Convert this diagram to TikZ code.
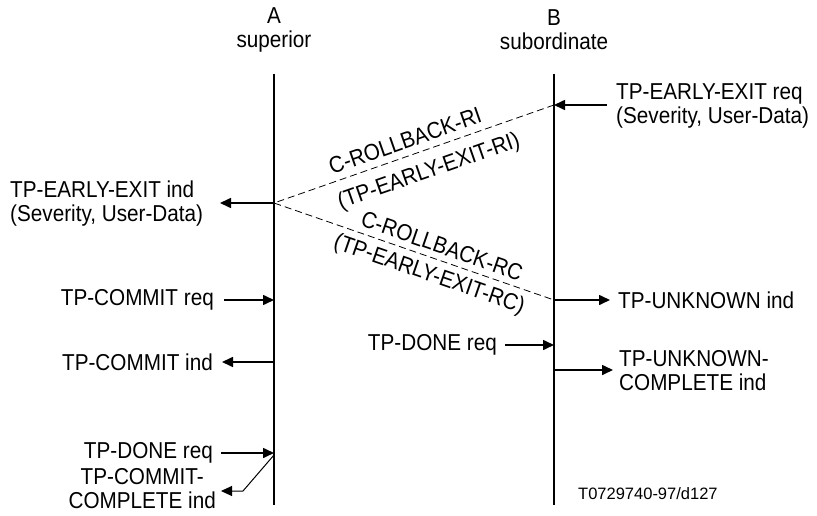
\documentclass[tikz,border=0pt]{standalone}
\usepackage{fontspec}
\setmainfont{Liberation Sans}
\newfontfamily\narrowfont{Liberation Sans}[FakeStretch=0.9]
\usetikzlibrary{arrows.meta}
\begin{document}
\begin{tikzpicture}[x=1pt,y=-1pt,
  lbl/.style={font=\narrowfont\fontsize{23}{24}\selectfont, inner sep=0pt, align=left},
  lblc/.style={lbl, align=center},
  small/.style={font=\fontsize{16.5}{18}\selectfont, inner sep=0pt},
  life/.style={line width=1.6pt},
  msg/.style={line width=1.6pt, -{Triangle[length=11pt,width=10pt]}},
  thinmsg/.style={line width=1pt, -{Triangle[length=11pt,width=10pt]}},
  pdu/.style={line width=0.8pt, dash pattern=on 7pt off 4pt}]
\useasboundingbox (0,0) rectangle (817,516);
% lifelines
\coordinate (Atop) at (274,74);
\coordinate (Abot) at (274,505);
\coordinate (Btop) at (554,74);
\coordinate (Bbot) at (554,505);
\draw[life] (Atop) -- (Abot);
\draw[life] (Btop) -- (Bbot);
% headers
\node[lblc] (hA) at (274,30) {A\\superior};
\node[lblc] (hB) at (554,30) {B\\subordinate};
% points on lifelines
\coordinate (B1) at (554,105);
\coordinate (A1) at (274,203);
\coordinate (B2) at (554,300);
\coordinate (A2) at (274,300);
\coordinate (B3) at (554,345);
\coordinate (A3) at (274,362);
\coordinate (B4) at (554,370);
\coordinate (A4) at (274,453);
\coordinate (A5) at (274,455);
\coordinate (k5) at (243,491);
% free ends
\coordinate (e1) at (607,105);
\coordinate (e2) at (220,203);
\coordinate (e3) at (224,300);
\coordinate (e4) at (610,300);
\coordinate (e5) at (505,345);
\coordinate (e6) at (222,362);
\coordinate (e7) at (613,370);
\coordinate (e8) at (221,453);
\coordinate (e9) at (221,491);
% texts
\node[lbl, anchor=west] (t1) at (616,106) {TP-EARLY-EXIT req\\(Severity, User-Data)};
\node[lbl, anchor=west] (t2) at (10,204) {TP-EARLY-EXIT ind\\(Severity, User-Data)};
\node[lbl, anchor=east] (t3) at (214,300) {TP-COMMIT req};
\node[lbl, anchor=west] (t4) at (618,300) {TP-UNKNOWN ind};
\node[lbl, anchor=east] (t5) at (497,345) {TP-DONE req};
\node[lbl, anchor=east] (t6) at (213,362) {TP-COMMIT ind};
\node[lbl, anchor=west] (t7) at (619,371) {TP-UNKNOWN-\\COMPLETE ind};
\node[lbl, anchor=east] (t8) at (213,453) {TP-DONE req};
\node[lblc, anchor=east] (t9) at (216,489) {TP-COMMIT-\\COMPLETE ind};
\node[small, anchor=west] (t10) at (578,494) {T0729740-97/d127};
% arrows
\draw[msg] (e1) -- (B1);
\draw[msg] (A1) -- (e2);
\draw[msg] (e3) -- (A2);
\draw[msg] (B2) -- (e4);
\draw[msg] (e5) -- (B3);
\draw[msg] (A3) -- (e6);
\draw[msg] (B4) -- (e7);
\draw[msg] (e8) -- (A4);
\draw[thinmsg] (A5) -- (k5) -- (e9);
% PDUs
\draw[pdu] (B1) -- (A1) -- (B2);
\node[lbl, rotate=19.3] (p1) at (405,141) {C-ROLLBACK-RI};
\node[lbl, rotate=19.3] (p2) at (429,172) {(TP-EARLY-EXIT-RI)};
\node[lbl, rotate=-19.1] (p3) at (442,246) {C-ROLLBACK-RC};
\node[lbl, rotate=-19.1] (p4) at (429,275) {(TP-EARLY-EXIT-RC)};
\end{tikzpicture}
\end{document}
